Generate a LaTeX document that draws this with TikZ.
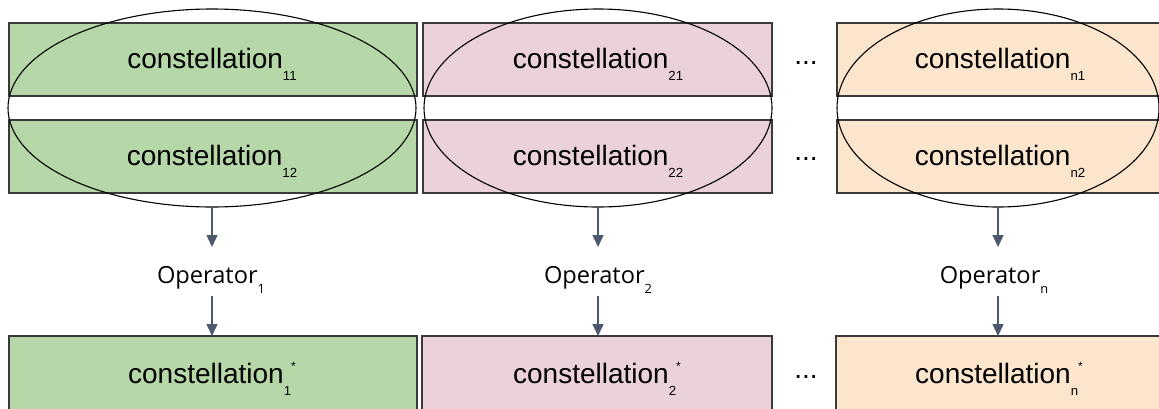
\documentclass[tikz,border=0pt]{standalone}
\usepackage{fontspec}
\setmainfont{Liberation Sans}
\newfontfamily\opfont{Open Sans}
\usetikzlibrary{shapes.geometric,arrows.meta}
\definecolor{cgreen}{HTML}{B6D7A8}
\definecolor{cpink}{HTML}{EAD1DC}
\definecolor{corange}{HTML}{FCE5CD}
\definecolor{framegray}{HTML}{3A3A3A}
\definecolor{flowgray}{HTML}{4D596D}
% constellation with an index, and with an index plus a star
\newcommand{\constsub}[1]{constellation\raisebox{-6pt}{\fontsize{6.6}{7}\selectfont #1}}
\newcommand{\conststar}[1]{constellation\raisebox{-6pt}{\fontsize{6.6}{7}\selectfont #1}\raisebox{6.4pt}{\fontsize{6}{7}\selectfont *}}
\newcommand{\opname}[1]{{\opfont Operator}\raisebox{-5pt}{\fontsize{6.4}{7}\selectfont\opfont #1}}
\begin{document}
\begin{tikzpicture}[x=0.5pt,y=-0.5pt,
  panel/.style={draw=framegray, line width=0.65pt, inner sep=0pt, outer sep=0pt},
  group/.style={ellipse, draw=black, line width=0.55pt, inner sep=0pt, outer sep=0pt},
  lbl/.style={anchor=base, inner sep=0pt, font=\fontsize{14}{16}\selectfont},
  opnode/.style={anchor=base, inner sep=0pt, outer sep=0pt, text height=18pt, text depth=6.5pt, font=\fontsize{11.8}{14}\selectfont},
  dotsnode/.style={anchor=base, inner sep=0pt, font=\fontsize{14}{16}\selectfont},
  flowarrow/.style={draw=flowgray, line width=0.7pt, -{Triangle[length=6pt,width=5.5pt]}}]
\clip (0,0) rectangle (1159,408);

% input panels
\node[panel, fill=cgreen, minimum width=204pt, minimum height=36.5pt] (g1) at (213,59.5) {};
\node[panel, fill=cgreen, minimum width=204pt, minimum height=36.5pt] (g2) at (213,156.5) {};
\node[panel, fill=cpink, minimum width=174.5pt, minimum height=36.5pt] (p1) at (597.5,59.5) {};
\node[panel, fill=cpink, minimum width=174.5pt, minimum height=36.5pt] (p2) at (597.5,156.5) {};
\node[panel, fill=corange, minimum width=162pt, minimum height=36.5pt] (n1) at (999,59.5) {};
\node[panel, fill=corange, minimum width=162pt, minimum height=36.5pt] (n2) at (999,156.5) {};

% result panels
\node[panel, fill=cgreen, minimum width=204pt, minimum height=42pt] (gr) at (213,378) {};
\node[panel, fill=cpink, minimum width=175pt, minimum height=42pt] (pr) at (597,378) {};
\node[panel, fill=corange, minimum width=163pt, minimum height=42pt] (nr) at (999,378) {};

% grouping ellipses
\node[group, minimum width=204pt, minimum height=99pt] (ge) at (212,108) {};
\node[group, minimum width=174pt, minimum height=99pt] (pe) at (598,108) {};
\node[group, minimum width=161pt, minimum height=99pt] (ne) at (998,108) {};

% labels
\node[lbl] (t11) at (212,68) {\constsub{11}};
\node[lbl] (t12) at (212,165) {\constsub{12}};
\node[lbl] (t21) at (598,68) {\constsub{21}};
\node[lbl] (t22) at (598,165) {\constsub{22}};
\node[lbl] (tn1) at (1000,68) {\constsub{n1}};
\node[lbl] (tn2) at (1000,165) {\constsub{n2}};
\node[lbl] (tr1) at (212,383) {\conststar{1}};
\node[lbl] (tr2) at (597,383) {\conststar{2}};
\node[lbl] (trn) at (999,383) {\conststar{n}};

\node[dotsnode] (d1) at (806,64.5) {...};
\node[dotsnode] (d2) at (806,160.5) {...};
\node[dotsnode] (d3) at (806,378.5) {...};

% operators
\node[opnode] (o1) at (211,283) {\opname{1}};
\node[opnode] (o2) at (598,283) {\opname{2}};
\node[opnode] (on) at (994,283) {\opname{n}};

% flow
\draw[flowarrow] (ge.south) -- (ge.south |- o1.north);
\draw[flowarrow] (ge.south |- o1.south) -- (ge.south |- gr.north);
\draw[flowarrow] (pe.south) -- (pe.south |- o2.north);
\draw[flowarrow] (pe.south |- o2.south) -- (pe.south |- pr.north);
\draw[flowarrow] (ne.south) -- (ne.south |- on.north);
\draw[flowarrow] (ne.south |- on.south) -- (ne.south |- nr.north);
\end{tikzpicture}
\end{document}
